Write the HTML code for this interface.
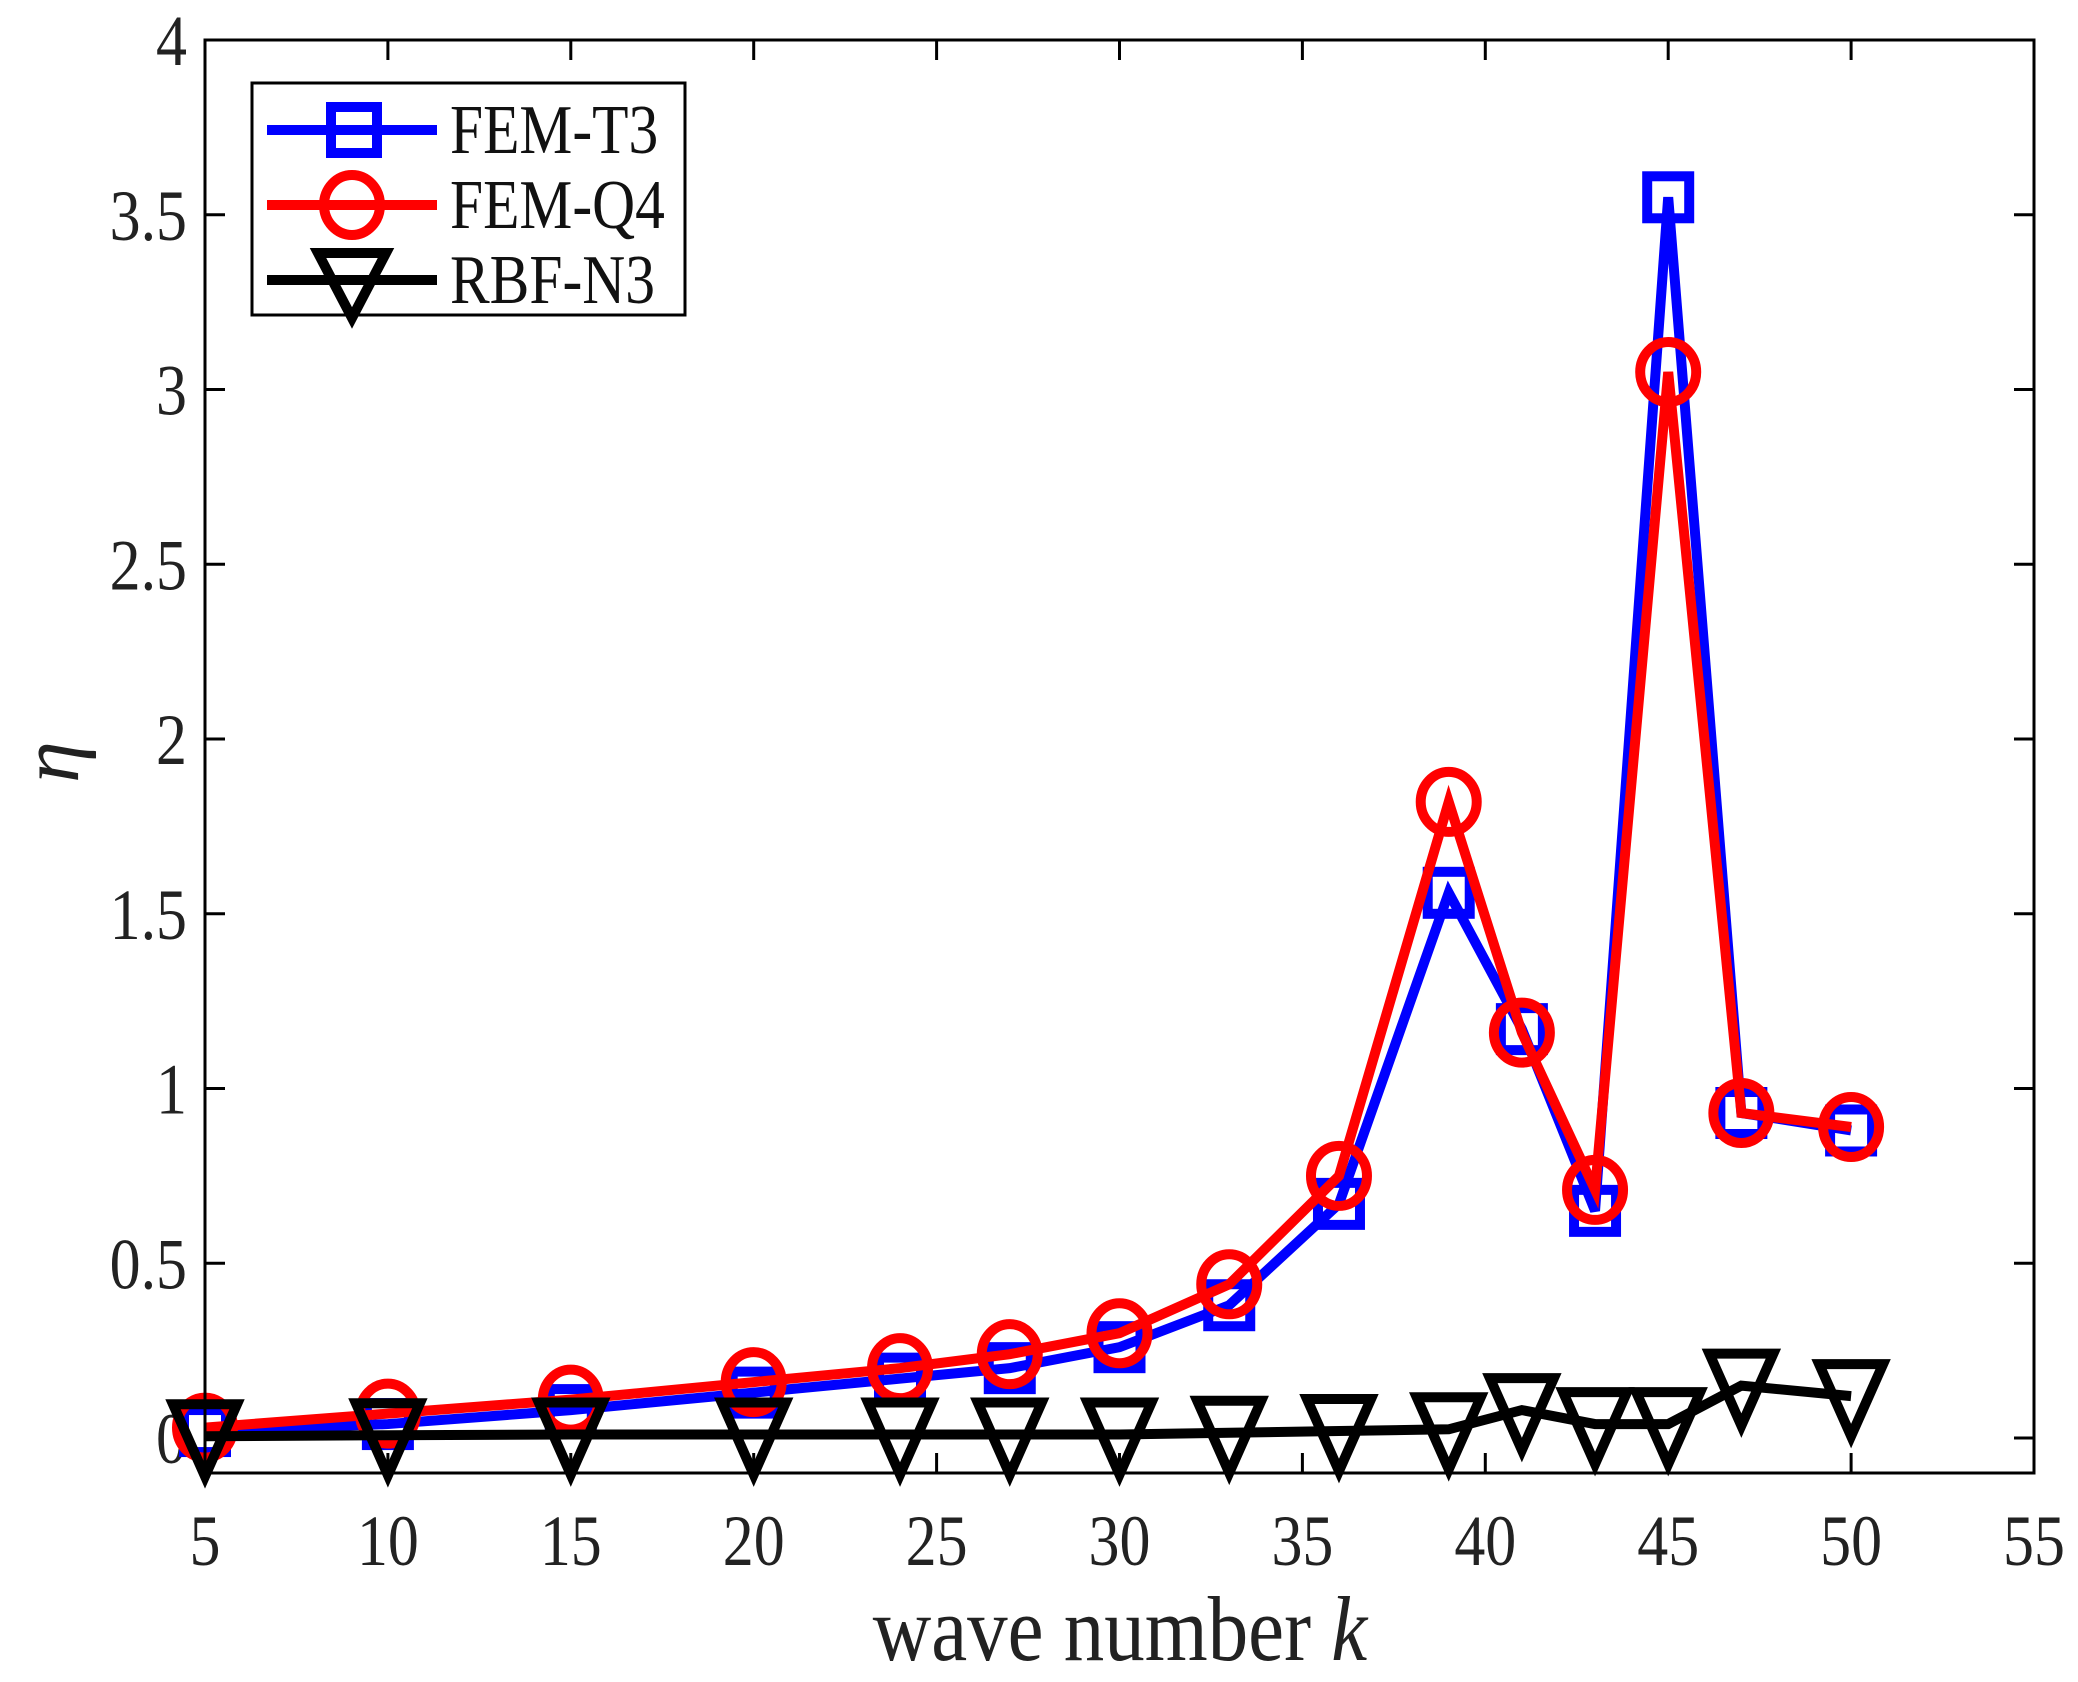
<!DOCTYPE html>
<html><head><meta charset="utf-8"><style>
html,body{margin:0;padding:0;background:#fff;}
svg{display:block;font-family:"Liberation Serif",serif;}
</style></head><body>
<svg id="chart" width="2078" height="1682" viewBox="0 0 2078 1682" xmlns="http://www.w3.org/2000/svg">
<rect width="2078" height="1682" fill="#fff"/>
<g id="ticks"></g>
<g id="series"></g>
<rect x="205" y="40" width="1829" height="1433" fill="none" stroke="#000" stroke-width="3"/>
<g transform="translate(1120,1660) scale(0.88,1)"><text x="0" y="0" font-size="92" text-anchor="middle" fill="#222">wave number <tspan font-style="italic">k</tspan></text></g>
<text transform="translate(78,762) rotate(-90)" font-size="84" font-style="italic" text-anchor="middle" fill="#222">η</text>
<g>
<rect x="252" y="83" width="433" height="232" fill="#fff" stroke="#000" stroke-width="3"/>
<g>
<line x1="267" y1="130" x2="437" y2="130" stroke="#0000ff" stroke-width="10"/>
<rect x="331" y="107" width="46" height="46" fill="none" stroke="#0000ff" stroke-width="10"/>
<g transform="translate(450,153) scale(0.85,1)"><text x="0" y="0" font-size="70" fill="#111">FEM-T3</text></g></g>
<g>
<line x1="267" y1="205" x2="437" y2="205" stroke="#ff0000" stroke-width="10"/>
<ellipse cx="352" cy="205" rx="28" ry="30" fill="none" stroke="#ff0000" stroke-width="10"/>
<g transform="translate(450,228) scale(0.85,1)"><text x="0" y="0" font-size="70" fill="#111">FEM-Q4</text></g></g>
<g>
<line x1="267" y1="280" x2="437" y2="280" stroke="#000" stroke-width="10"/>
<polygon points="318,253 386,253 352,318" fill="none" stroke="#000" stroke-width="10"/>
<g transform="translate(450,303) scale(0.85,1)"><text x="0" y="0" font-size="70" fill="#111">RBF-N3</text></g></g>
</g>
</svg>
<script>
const kValues=[5,10,15,20,24,27,30,33,36,39,41,43,45,47,50];
const femT3=[0.02,0.04,0.08,0.13,0.17,0.2,0.26,0.38,0.67,1.56,1.17,0.65,3.55,0.93,0.88];
const femQ4=[0.03,0.07,0.11,0.16,0.2,0.24,0.3,0.44,0.75,1.82,1.16,0.71,3.05,0.93,0.89];
const rbfN3=[0.005,0.008,0.01,0.01,0.01,0.01,0.01,0.015,0.02,0.025,0.08,0.04,0.04,0.15,0.12];
const xTicks=[5,10,15,20,25,30,35,40,45,50,55];
const yTicks=[0,0.5,1,1.5,2,2.5,3,3.5,4];
const yTickLabels=["0","0.5","1","1.5","2","2.5","3","3.5","4"];
const L=205,R=2034,T=40,B=1473,xmin=5,xmax=55,ymin=-0.1,ymax=4;
const sx=v=>L+(v-xmin)/(xmax-xmin)*(R-L);
const sy=v=>B-(v-ymin)/(ymax-ymin)*(B-T);
const NS="http://www.w3.org/2000/svg";
function mk(tag,attrs,parent){const e=document.createElementNS(NS,tag);for(const k in attrs)e.setAttribute(k,attrs[k]);parent.appendChild(e);return e;}
const tg=document.getElementById('ticks');
xTicks.forEach(v=>{
  const x=sx(v);
  const a=mk('line',{x1:x,y1:B,x2:x,y2:B-20,stroke:'#000','stroke-width':3},tg);
  
  
  const b=mk('line',{x1:x,y1:T,x2:x,y2:T+20,stroke:'#000','stroke-width':3},tg);
  
  
  const g=mk('g',{transform:'translate('+x+','+(B+92)+') scale(0.86,1)'},tg);
  const t=mk('text',{x:0,y:0,'font-size':72,'text-anchor':'middle',fill:'#222'},g);
  t.textContent=v;
  
  
});
yTicks.forEach((v,i)=>{
  const y=sy(v);
  const a=mk('line',{x1:L,y1:y,x2:L+20,y2:y,stroke:'#000','stroke-width':3},tg);
  
  
  const b=mk('line',{x1:R,y1:y,x2:R-20,y2:y,stroke:'#000','stroke-width':3},tg);
  
  
  const g=mk('g',{transform:'translate('+(L-18)+','+(y+25)+') scale(0.86,1)'},tg);
  const t=mk('text',{x:0,y:0,'font-size':72,'text-anchor':'end',fill:'#222'},g);
  t.textContent=yTickLabels[i];
  
  
});
const sg=document.getElementById('series');
function drawSeries(vals,color,marker,name){
  const g=mk('g',{},sg);
  
  
  const pts=kValues.map((k,i)=>sx(k)+','+sy(vals[i])).join(' ');
  const pl=mk('polyline',{points:pts,fill:'none',stroke:color,'stroke-width':10,'stroke-linejoin':'miter'},g);
  
  
  kValues.forEach((k,i)=>{
    const x=sx(k),y=sy(vals[i]);let m;
    if(marker==='square')m=mk('rect',{x:x-21,y:y-21,width:42,height:42,fill:'none',stroke:color,'stroke-width':10},g);
    else if(marker==='circle')m=mk('ellipse',{cx:x,cy:y,rx:28,ry:30,fill:'none',stroke:color,'stroke-width':10},g);
    else m=mk('polygon',{points:(x-32)+','+(y-32)+' '+(x+32)+','+(y-32)+' '+x+','+(y+40),fill:'none',stroke:color,'stroke-width':10},g);
    
    
  });
}
drawSeries(femT3,'#0000ff','square','fem-t3');
drawSeries(femQ4,'#ff0000','circle','fem-q4');
drawSeries(rbfN3,'#000000','triangle','rbf-n3');
</script>
</body></html>
